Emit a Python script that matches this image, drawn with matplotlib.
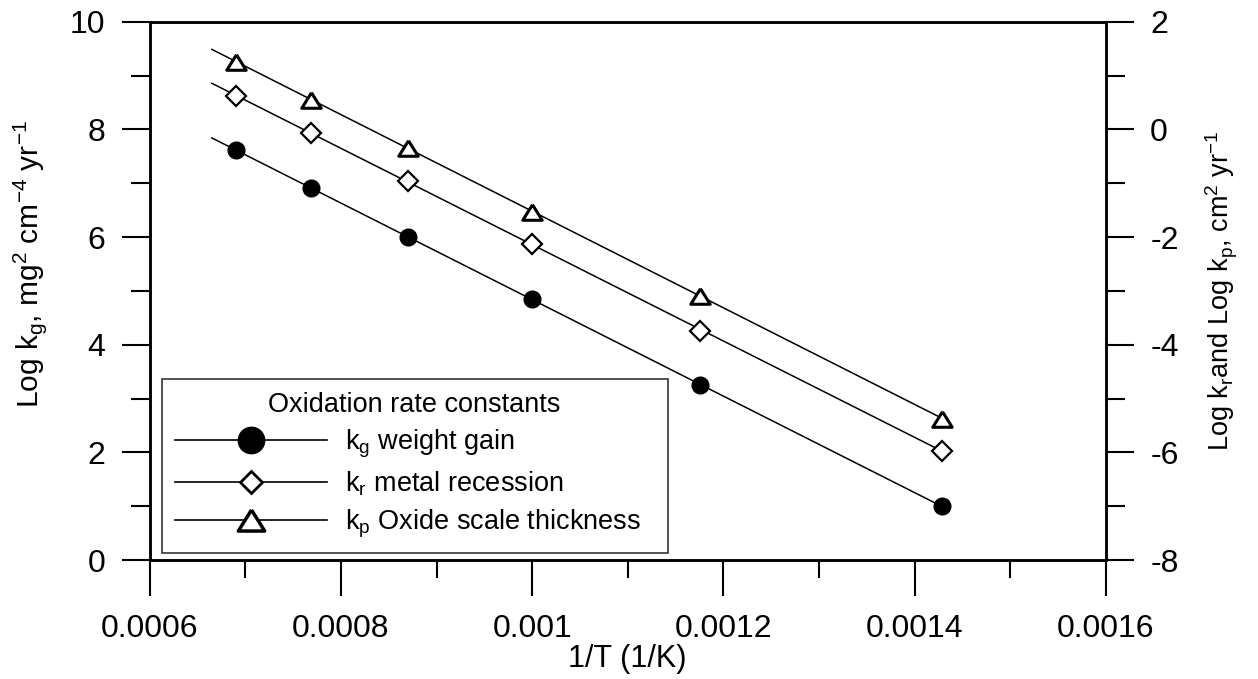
import numpy as np
import matplotlib
matplotlib.use("Agg")
import matplotlib.pyplot as plt
from matplotlib.lines import Line2D
from matplotlib.ticker import MultipleLocator

plt.rcParams['font.family'] = ['Liberation Sans', 'DejaVu Sans']
plt.rcParams['mathtext.fontset'] = 'custom'
plt.rcParams['mathtext.rm'] = 'Liberation Sans'
plt.rcParams['mathtext.it'] = 'Liberation Sans'
plt.rcParams['axes.unicode_minus'] = False

# Data (1/T in 1/K)
inv_T = [0.00069, 0.000769, 0.00087, 0.001, 0.001176, 0.001429]
log_kg = [7.62, 6.91, 6.00, 4.85, 3.25, 1.00]      # left axis
log_kr = [0.62, -0.07, -0.96, -2.13, -3.74, -5.97]  # right axis
log_kp = [1.26, 0.55, -0.34, -1.53, -3.09, -5.37]   # right axis

labels = [r'k$_\mathregular{g}$ weight gain',
          r'k$_\mathregular{r}$ metal recession',
          r'k$_\mathregular{p}$ Oxide scale thickness']
xtick_labels = ['0.0006', '0.0008', '0.001', '0.0012', '0.0014', '0.0016']

fig = plt.figure(figsize=(12.58, 6.79), dpi=100)
ax = fig.add_axes([0.119, 0.175, 0.760, 0.793])
ax2 = ax.twinx()

tri = [(0, 0.8), (-1, -0.8), (1, -0.8), (0, 0.8)]
x = np.array(inv_T)
xfit = np.array([0.000665, x.max()])

def fitline(a, xv, yv):
    p = np.polyfit(xv, yv, 1)
    a.plot(xfit, np.polyval(p, xfit), color='black', lw=1.1, zorder=2)

fitline(ax, x, log_kg)
fitline(ax2, x, log_kr)
fitline(ax2, x, log_kp)

ax.plot(x, log_kg, linestyle='none', marker='o', ms=12, mfc='black', mec='black', zorder=3)
ax2.plot(x, log_kr, linestyle='none', marker='D', ms=10, mfc='white', mec='black', mew=1.6, zorder=3)
ax2.plot(x, log_kp, linestyle='none', marker=tri, ms=14, mfc='white', mec='black', mew=2.2, zorder=3)

ax.set_xlim(0.0006, 0.0016)
ax.set_ylim(0, 10)
ax2.set_ylim(-8, 2)

ax.xaxis.set_minor_locator(MultipleLocator(0.0001))
ax.yaxis.set_major_locator(MultipleLocator(2))
ax.yaxis.set_minor_locator(MultipleLocator(1))
ax2.yaxis.set_major_locator(MultipleLocator(2))
ax2.yaxis.set_minor_locator(MultipleLocator(1))

ax.set_xticks([float(t) for t in xtick_labels])
ax.set_xticklabels(xtick_labels)

for a in (ax, ax2):
    for s in a.spines.values():
        s.set_linewidth(1.8)

fs_tick = 23
ax.tick_params(axis='x', which='major', direction='out', length=26, width=1.5, labelsize=fs_tick, pad=13)
ax.tick_params(axis='x', which='minor', direction='out', length=13, width=1.5)
ax.tick_params(axis='y', which='major', direction='out', length=20, width=1.5, labelsize=fs_tick, pad=12)
ax.tick_params(axis='y', which='minor', direction='out', length=14, width=1.5)
ax2.tick_params(axis='y', which='major', direction='out', length=20, width=1.5, labelsize=fs_tick, pad=12)
ax2.tick_params(axis='y', which='minor', direction='out', length=14, width=1.5)

ax.set_xlabel('1/T (1/K)', fontsize=22, labelpad=0)
ax.set_ylabel(r'Log k$_\mathregular{g}$, mg$^\mathregular{2}$ cm$^\mathregular{-4}$ yr$^\mathregular{-1}$', fontsize=21.5)
ax.yaxis.set_label_coords(-0.105, 0.55)
ax2.set_ylabel(r'Log k$_\mathregular{r}$and Log k$_\mathregular{p}$, cm$^\mathregular{2}$ yr$^\mathregular{-1}$', fontsize=19.5, labelpad=18)

handles = [
    Line2D([], [], color='black', lw=1.2, marker='o', ms=19, mfc='black', mec='black'),
    Line2D([], [], color='black', lw=1.2, marker='D', ms=11, mfc='white', mec='black', mew=2),
    Line2D([], [], color='black', lw=1.2, marker=tri, ms=19, mfc='white', mec='black', mew=2.5),
]
leg = ax2.legend(handles, labels, title='Oxidation rate constants', loc='lower left',
                 bbox_to_anchor=(0.0126, 0.013, 0.529, 0.327), mode='expand',
                 borderaxespad=0, fontsize=19.5, title_fontsize=19.5, frameon=True,
                 fancybox=False, edgecolor='black', handlelength=5.6, handletextpad=0.65,
                 labelspacing=0.35, borderpad=0.5)
leg.get_frame().set_linewidth(1.2)
leg._legend_box.align = 'center'

fig.savefig('out.png', dpi=100)
